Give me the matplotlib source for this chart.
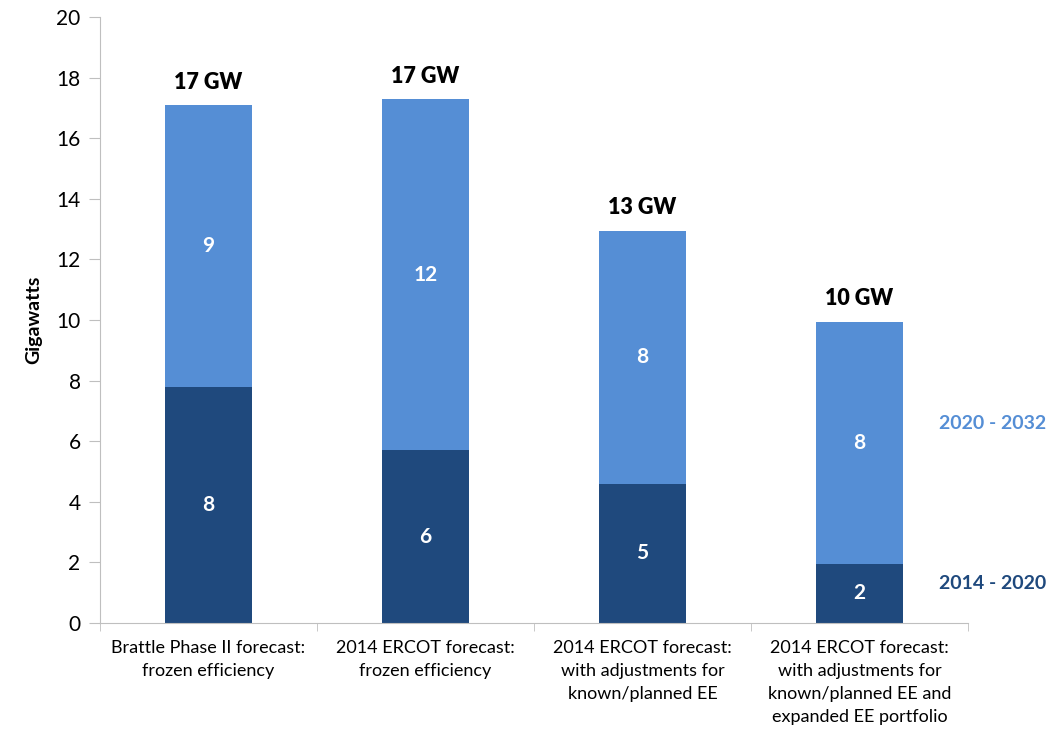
import matplotlib.pyplot as plt
import numpy as np

plt.rcParams['font.family'] = ['Lato', 'DejaVu Sans']

categories = ['Brattle Phase II forecast:\nfrozen efficiency',
              '2014 ERCOT forecast:\nfrozen efficiency',
              '2014 ERCOT forecast:\nwith adjustments for\nknown/planned EE',
              '2014 ERCOT forecast:\nwith adjustments for\nknown/planned EE and\nexpanded EE portfolio']
early = [7.8, 5.7, 4.6, 1.95]        # 2014 - 2020
late = [9.3, 11.6, 8.35, 8.0]        # 2020 - 2032
early_labels = ['8', '6', '5', '2']
late_labels = ['9', '12', '8', '8']
total_labels = ['17 GW', '17 GW', '13 GW', '10 GW']

dark = '#1F497D'
light = '#558ED5'
grey = '#BFBFBF'

fig = plt.figure(figsize=(10.52, 7.3), dpi=100)
ax = fig.add_axes([100/1052, 107/730, 868/1052, 606/730])

x = np.arange(len(categories))
w = 0.4
ax.bar(x, early, w, color=dark)
ax.bar(x, late, w, bottom=early, color=light)

for i in x:
    ax.text(i, early[i] / 2, early_labels[i], ha='center', va='center',
            color='white', fontsize=15, fontweight='bold')
    ax.text(i, early[i] + late[i] / 2, late_labels[i], ha='center', va='center',
            color='white', fontsize=15, fontweight='bold')
    ax.text(i, early[i] + late[i] + 0.4, total_labels[i], ha='center', va='bottom',
            color='black', fontsize=15.5, fontweight='heavy')

# series names at the right
ax.text(3.615, 6.6, '2020 - 2032', ha='center', va='center', color=light,
        fontsize=14, fontweight='bold', clip_on=False)
ax.text(3.615, 1.32, '2014 - 2020', ha='center', va='center', color=dark,
        fontsize=14, fontweight='bold', clip_on=False)

ax.set_xlim(-0.5, 3.5)
ax.set_ylim(0, 20)
ax.set_yticks(range(0, 21, 2))
ax.tick_params(axis='y', labelsize=15, length=8, color=grey, pad=6)
ax.set_xticks(x)
ax.set_xticklabels(categories, fontsize=13, linespacing=1.55)
ax.tick_params(axis='x', length=0, pad=12)
ax.set_xticks(np.arange(-0.5, 4, 1), minor=True)
ax.tick_params(axis='x', which='minor', length=6, color=grey)
ax.set_ylabel('Gigawatts', fontsize=14, fontweight='bold', labelpad=10)

for s in ['top', 'right']:
    ax.spines[s].set_visible(False)
ax.spines['left'].set_color(grey)
ax.spines['bottom'].set_color(grey)

fig.savefig('out.png', dpi=100)
